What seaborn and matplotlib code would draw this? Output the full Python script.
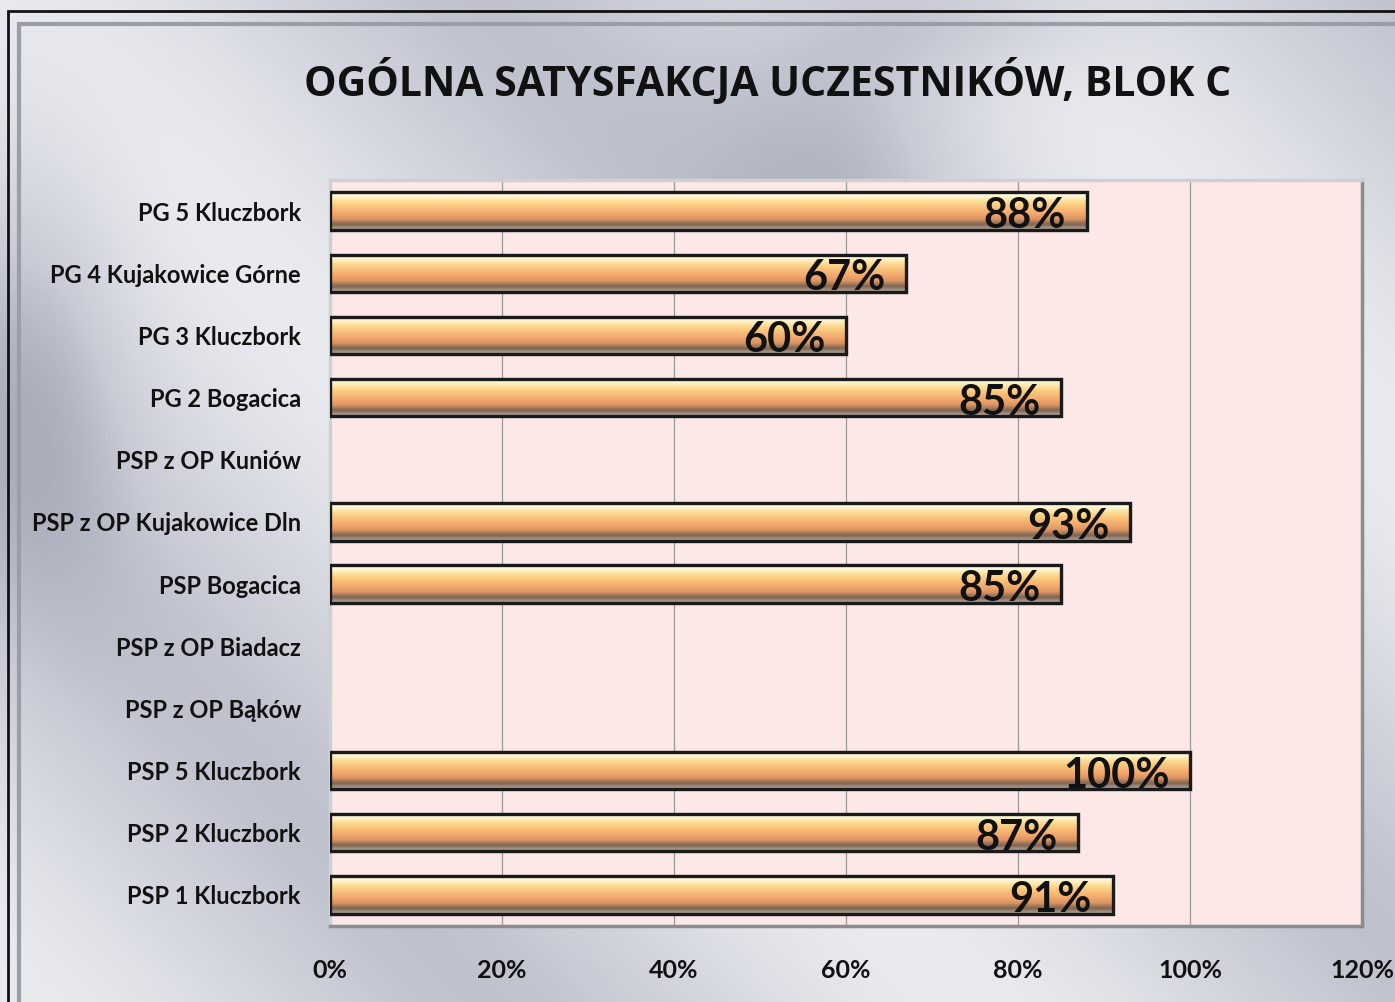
import numpy as np
import pandas as pd
import seaborn as sns
import matplotlib.pyplot as plt
from matplotlib.colors import LinearSegmentedColormap
from matplotlib.patches import Rectangle

szkoly = [
    "PG 5 Kluczbork",
    "PG 4 Kujakowice Górne",
    "PG 3 Kluczbork",
    "PG 2 Bogacica",
    "PSP z OP Kuniów",
    "PSP z OP Kujakowice Dln",
    "PSP Bogacica",
    "PSP z OP Biadacz",
    "PSP z OP Bąków",
    "PSP 5 Kluczbork",
    "PSP 2 Kluczbork",
    "PSP 1 Kluczbork",
]
wyniki = [88, 67, 60, 85, np.nan, 93, 85, np.nan, np.nan, 100, 87, 91]
ticki_x = [0, 20, 40, 60, 80, 100, 120]
tytul = "OGÓLNA SATYSFAKCJA UCZESTNIKÓW, BLOK C"

df = pd.DataFrame({"szkola": szkoly, "wynik": wyniki})

sns.set_theme(style="white")
plt.rcParams["font.family"] = ["Lato", "DejaVu Sans"]

W, H = 1395, 1002
fig = plt.figure(figsize=(W / 100, H / 100), dpi=100)

# tlo - srebrny gradient
bg = fig.add_axes([0, 0, 1, 1], zorder=-10)
yy, xx = np.mgrid[0:1:300j, 0:1:420j]
wzor = (0.87 + 0.05 * np.cos((xx * 1.3 - yy * 0.9) * 7.0)
        - 0.06 * np.exp(-((xx - 0.62) ** 2) / 0.01 - ((yy - 0.1) ** 2) / 0.05)
        - 0.05 * np.exp(-((xx - 0.03) ** 2) / 0.004 - ((yy - 0.35) ** 2) / 0.05)
        - 0.05 * np.exp(-((xx - 0.7) ** 2) / 0.01 - ((yy - 0.02) ** 2) / 0.003))
srebro = LinearSegmentedColormap.from_list("srebro", ["#7d8494", "#c9ccd6", "#f4f5f8"])
bg.imshow(wzor, cmap=srebro, vmin=0.72, vmax=0.95, aspect="auto", extent=[0, 1, 0, 1])
bg.set_xlim(0, 1)
bg.set_ylim(0, 1)
bg.axis("off")
fig.patches.append(Rectangle((8 / W, -0.01), 1.0, 1 - 11 / H + 0.01, transform=fig.transFigure,
                             fill=False, edgecolor="#111111", linewidth=2, zorder=-5))
fig.patches.append(Rectangle((19 / W, -0.01), 1.0, 1 - 24 / H + 0.01, transform=fig.transFigure,
                             fill=False, edgecolor="#9a9ea8", linewidth=3, zorder=-5))

fig.text(768 / W, 1 - 83 / H, tytul, ha="center", va="center", fontsize=29.5,
         fontweight="bold", family=["Open Sans", "DejaVu Sans"], color="#111111")

ax = fig.add_axes([330 / W, 1 - 926 / H, (1362 - 330) / W, (926 - 180) / H])
ax.set_facecolor("#fde8e8")
sns.barplot(data=df, y="szkola", x="wynik", order=szkoly, orient="h", ax=ax,
            width=0.6, color="#f6b877", edgecolor="#1a1a1a", linewidth=2.2,
            errorbar=None, zorder=3)

pomarancz = LinearSegmentedColormap.from_list(
    "pom", ["#ffffff", "#fef0c0", "#fbd58a", "#f8bd78", "#f3a86c", "#d99463", "#7d6350", "#b9aca2"])
grad = np.linspace(0, 1, 64).reshape(-1, 1)
for p in ax.patches:
    w = p.get_width()
    if not np.isfinite(w) or w <= 0:
        continue
    x0, y0, h = p.get_x(), p.get_y(), p.get_height()
    im = ax.imshow(grad, cmap=pomarancz, aspect="auto", zorder=3.5,
                   extent=[x0, x0 + w, y0 + h, y0], interpolation="bicubic")
    im.set_clip_path(p)
    ax.add_patch(Rectangle((x0, y0), w, h, fill=False, edgecolor="#1a1a1a",
                           linewidth=2.4, zorder=4))

for i, v in enumerate(wyniki):
    if np.isnan(v):
        continue
    ax.text(v - 2.4, i + 0.08, f"{v:.0f}%", ha="right", va="center", fontsize=30,
            fontweight="bold", color="#111111", zorder=5)

ax.set_xlim(0, 120)
ax.set_ylim(len(szkoly) - 0.5, -0.5)
ax.set_xticks(ticki_x)
ax.set_xticklabels([f"{t}%" for t in ticki_x], fontsize=18, fontweight="bold", color="#111111")
ax.tick_params(axis="x", pad=24, length=0)
ax.tick_params(axis="y", pad=21, length=0, labelsize=17)
for lab in ax.get_yticklabels():
    lab.set_fontweight("bold")
    lab.set_color("#111111")
ax.grid(axis="x", color="#9a9a9a", linewidth=0.9, zorder=0)
ax.set_axisbelow(True)
ax.set_xlabel("")
ax.set_ylabel("")
for s in ax.spines.values():
    s.set_visible(True)
    s.set_color("#8c8c8c")
    s.set_linewidth(2.5)
ax.spines["left"].set_color("#d0d0d0")
ax.spines["top"].set_color("#d0d0d0")

fig.savefig("out.png", dpi=100)
